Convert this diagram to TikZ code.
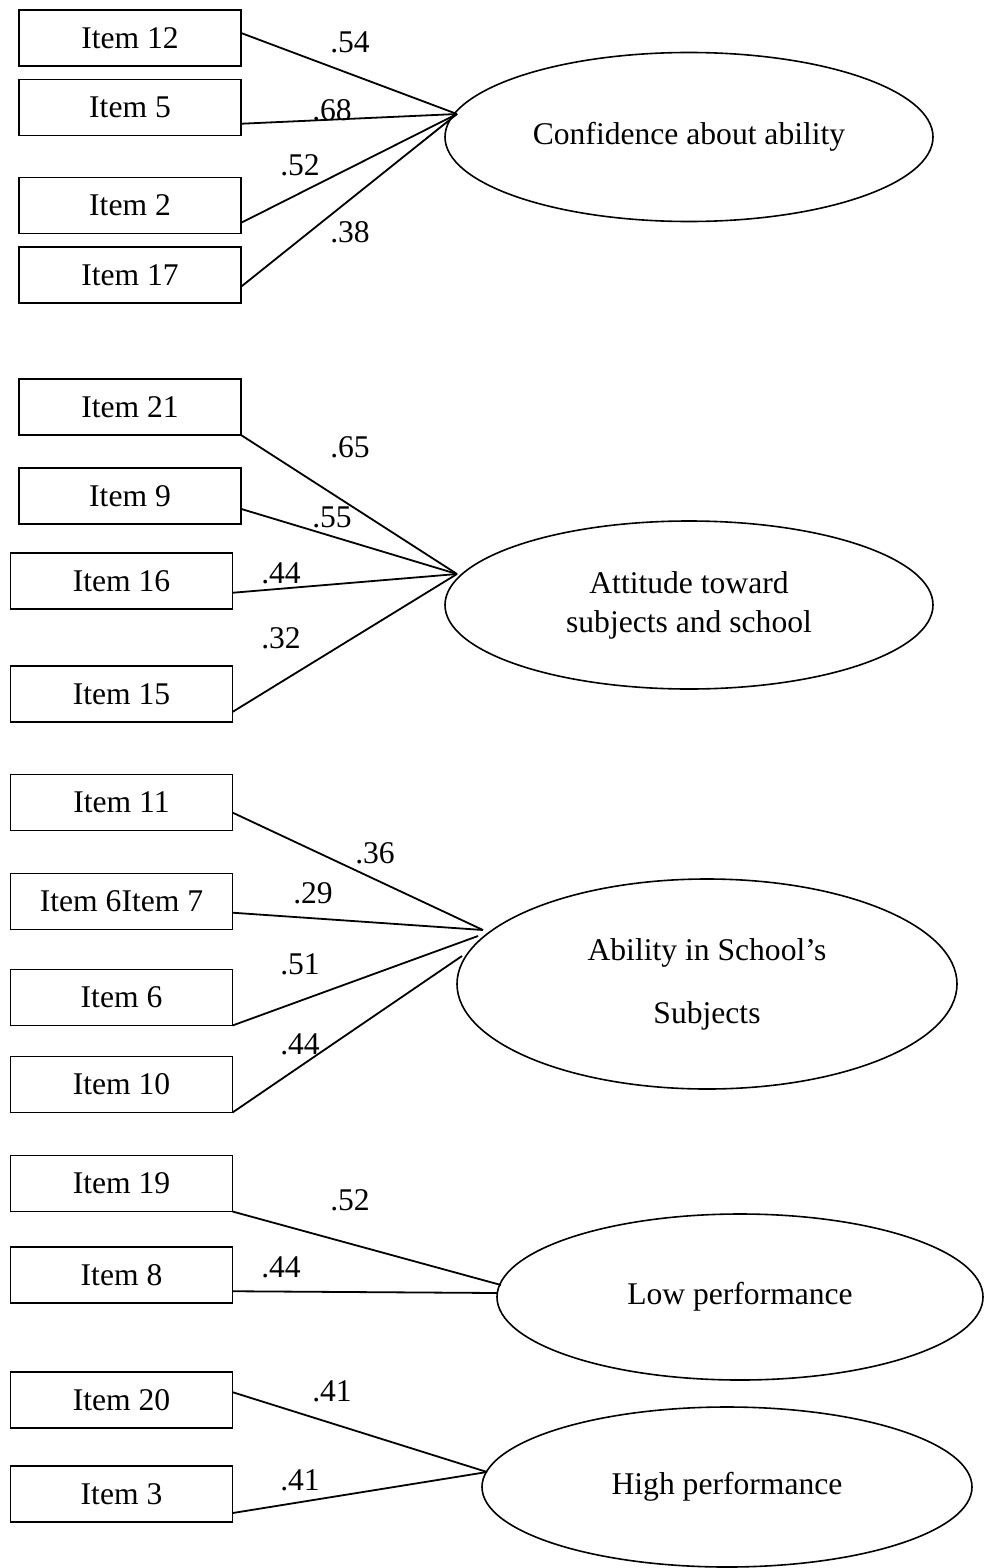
\documentclass[tikz,border=0pt]{standalone}
\usepackage{fontspec}
\setmainfont{Liberation Serif}
\usetikzlibrary{shapes.geometric,calc}
\begin{document}
\begin{tikzpicture}[x=0.5pt,y=-0.5pt,
  itembox/.style={draw, line width=0.9pt, minimum width=111pt, minimum height=28pt, inner sep=0pt, outer sep=0pt, font=\fontsize{15.8}{19}\selectfont},
  factor/.style={draw, ellipse, line width=0.8pt, inner sep=0pt, outer sep=0pt, align=center, font=\fontsize{15.8}{19.5}\selectfont},
  coef/.style={inner sep=0pt, font=\fontsize{15.8}{19}\selectfont},
  link/.style={line width=0.9pt}]
\useasboundingbox (0,0) rectangle (984,1568);

% ---------- group 1 ----------
\node[itembox] (i12) at (130,38) {Item 12};
\node[itembox] (i5)  at (130,107.5) {Item 5};
\node[itembox] (i2)  at (130,205.5) {Item 2};
\node[itembox] (i17) at (130,275) {Item 17};
\node[factor, minimum width=244pt, minimum height=84.5pt] (e1) at (689,137) {Confidence about ability};
\coordinate (c1) at (457,114);
\draw[link] ($(i12.north east)!0.41!(i12.south east)$) -- (c1);
\draw[link] ($(i5.north east)!0.79!(i5.south east)$) -- (c1);
\draw[link] ($(i2.north east)!0.81!(i2.south east)$) -- (c1);
\draw[link] ($(i17.north east)!0.71!(i17.south east)$) -- (c1);
\node[coef] (l12) at (350,42) {.54};
\node[coef] (l5)  at (332,110) {.68};
\node[coef] (l2)  at (300,165) {.52};
\node[coef] (l17) at (350,232) {.38};

% ---------- group 2 ----------
\node[itembox] (i21) at (130,407) {Item 21};
\node[itembox] (i9)  at (130,496) {Item 9};
\node[itembox] (i16) at (121.5,581) {Item 16};
\node[itembox] (i15) at (121.5,694) {Item 15};
\node[factor, minimum width=244pt, minimum height=84pt] (e2) at (689,605) {Attitude toward\\subjects and school};
\coordinate (c2) at (457,574);
\draw[link] (i21.south east) -- (c2);
\draw[link] ($(i9.north east)!0.73!(i9.south east)$) -- (c2);
\draw[link] ($(i16.north east)!0.71!(i16.south east)$) -- (c2);
\draw[link] ($(i15.north east)!0.82!(i15.south east)$) -- (c2);
\node[coef] (l21) at (350,447) {.65};
\node[coef] (l9)  at (332,517) {.55};
\node[coef] (l16) at (281,573) {.44};
\node[coef] (l15) at (281,638) {.32};

% ---------- group 3 ----------
\node[itembox] (i11) at (121.5,802.5) {Item 11};
\node[itembox] (i67) at (121.5,901.5) {Item 6Item 7};
\node[itembox] (i6)  at (121.5,997.5) {Item 6};
\node[itembox] (i10) at (121.5,1084.5) {Item 10};
\node[factor, minimum width=250pt, minimum height=105pt] (e3) at (707,984) {Ability in School’s\\[12pt]Subjects};
\coordinate (c3a) at (483,930);
\coordinate (c3b) at (478,936);
\coordinate (c3c) at (462,956);
\draw[link] ($(i11.north east)!0.68!(i11.south east)$) -- (c3a);
\draw[link] ($(i67.north east)!0.70!(i67.south east)$) -- (c3a);
\draw[link] (i6.south east) -- (c3b);
\draw[link] (i10.south east) -- (c3c);
\node[coef] (l11) at (375,853) {.36};
\node[coef] (l67) at (313,893) {.29};
\node[coef] (l6)  at (300,964) {.51};
\node[coef] (l10) at (300,1044) {.44};

% ---------- group 4 ----------
\node[itembox] (i19) at (121.5,1183.5) {Item 19};
\node[itembox] (i8)  at (121.5,1275) {Item 8};
\node[factor, minimum width=243pt, minimum height=83pt] (e4) at (740,1297) {Low performance};
\coordinate (c4a) at (501,1285);
\coordinate (c4b) at (497,1293);
\draw[link] (i19.south east) -- (c4a);
\draw[link] ($(i8.north east)!0.79!(i8.south east)$) -- (c4b);
\node[coef] (l19) at (350,1200) {.52};
\node[coef] (l8)  at (281,1267) {.44};

% ---------- group 5 ----------
\node[itembox] (i20) at (121.5,1400) {Item 20};
\node[itembox] (i3)  at (121.5,1494) {Item 3};
\node[factor, minimum width=245pt, minimum height=80pt] (e5) at (727,1487) {High performance};
\coordinate (c5) at (487,1472);
\draw[link] ($(i20.north east)!0.36!(i20.south east)$) -- (c5);
\draw[link] ($(i3.north east)!0.84!(i3.south east)$) -- (c5);
\node[coef] (l20) at (332,1391) {.41};
\node[coef] (l3)  at (300,1480) {.41};
\end{tikzpicture}
\end{document}
